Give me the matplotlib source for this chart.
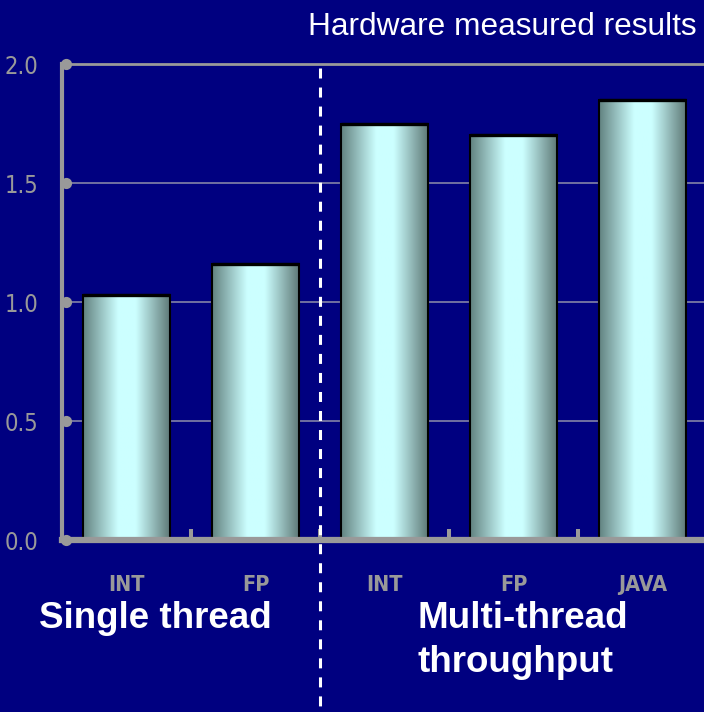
import matplotlib
matplotlib.use('Agg')
import matplotlib.pyplot as plt
import matplotlib.transforms as mtransforms
from matplotlib import font_manager
import numpy as np

categories = ['INT', 'FP', 'INT', 'FP', 'JAVA']
speedup = [1.03, 1.16, 1.75, 1.70, 1.85]
y_ticks = [0.0, 0.5, 1.0, 1.5, 2.0]
y_labels = ['0.0', '0.5', '1.0', '1.5', '2.0']

bg = '#000080'
grey = '#999999'
sans = ['Liberation Sans', 'DejaVu Sans']

plt.rcParams['lines.scale_dashes'] = False

# pick a narrow face for the axis labels if one is around
installed = set(f.name for f in font_manager.fontManager.ttflist)
if 'Liberation Sans Narrow' in installed:
	narrow = ['Liberation Sans Narrow', 'DejaVu Sans']
	narrow_stretch = 'normal'
else:
	narrow = ['DejaVu Sans']
	narrow_stretch = 'condensed'


def bar_gradient():
	# dark teal at the edges, pale cyan in the middle
	stops = np.array([0.0, 0.4, 0.6, 1.0])
	cols = np.array([[0x62, 0x82, 0x80], [0xcc, 0xff, 0xff],
					 [0xcc, 0xff, 0xff], [0x5c, 0x76, 0x74]]) / 255.
	xs = np.linspace(0, 1, 200)
	rgb = np.stack([np.interp(xs, stops, cols[:, k]) for k in range(3)], axis=-1)
	return rgb[np.newaxis, :, :]


def main():
	fig = plt.figure(figsize=(7.04, 7.12), dpi=100, facecolor=bg)
	ax = fig.add_axes([62/704., 172/712., 645/704., 476/712.])
	ax.set_facecolor(bg)

	x = np.arange(len(categories))
	bars = ax.bar(x, speedup, width=0.675, facecolor='none', edgecolor='black',
				  linewidth=1.5, zorder=4)
	grad = bar_gradient()
	for b in bars:
		x0 = b.get_x()
		ax.imshow(grad, extent=(x0, x0 + b.get_width(), 0, b.get_height()),
				  aspect='auto', zorder=3, interpolation='bilinear')
		ax.plot([x0, x0 + b.get_width()], [b.get_height()] * 2, color='black',
				lw=2.4, solid_capstyle='butt', zorder=5)

	ax.set_xlim(-0.5, 4.5)
	ax.set_ylim(0, 2.0)

	# grid and frame
	for y in y_ticks[1:-1]:
		ax.axhline(y, color='#8f8faa', lw=1.1, zorder=1)
	for side in ['left', 'bottom', 'top']:
		ax.spines[side].set_color(grey)
	ax.spines['left'].set_linewidth(3.0)
	ax.spines['bottom'].set_linewidth(4.5)
	ax.spines['top'].set_linewidth(2.0)
	ax.spines['right'].set_visible(False)
	ax.spines['left'].set_zorder(6)
	ax.spines['bottom'].set_zorder(6)

	# round dots on the value axis
	trans = mtransforms.blended_transform_factory(ax.transAxes, ax.transData)
	ax.scatter([0.006] * len(y_ticks), y_ticks, s=65, color=grey, transform=trans,
			   clip_on=False, zorder=7, linewidths=0)

	ax.set_yticks(y_ticks)
	ax.set_yticklabels(y_labels, family=narrow, stretch=narrow_stretch,
					   fontsize=17, color=grey)
	ax.tick_params(axis='y', length=0, pad=17)
	nudge = mtransforms.ScaledTranslation(0, -3/100., fig.dpi_scale_trans)
	for lab in ax.get_yticklabels():
		lab.set_va('center')
		lab.set_transform(lab.get_transform() + nudge)

	ax.set_xticks(x)
	ax.set_xticklabels(categories, family=narrow, stretch=narrow_stretch,
					   fontsize=15.5, fontweight='bold', color=grey)
	ax.tick_params(axis='x', which='major', length=0, pad=25)
	ax.set_xticks(x[:-1] + 0.5, minor=True)
	ax.tick_params(axis='x', which='minor', direction='in', length=8, width=2.9,
				   color=grey)

	# divider between single and multi-thread
	ax.plot([1.5, 1.5], [1.983, -0.75], color='white', lw=2.2,
			linestyle=(0, (7.2, 6.5)), clip_on=False, zorder=8)

	fig.text(697/704., 1 - 35/712., 'Hardware measured results', family=sans,
			 fontsize=22.8, color='white', ha='right', va='baseline')
	fig.text(39/704., 1 - 628/712., 'Single thread', family=sans, fontsize=26.5,
			 fontweight='bold', color='white', ha='left', va='baseline')
	fig.text(417/704., 1 - 628/712., 'Multi-thread', family=sans, fontsize=26.5,
			 fontweight='bold', color='white', ha='left', va='baseline')
	fig.text(417/704., 1 - 672/712., 'throughput', family=sans, fontsize=26.5,
			 fontweight='bold', color='white', ha='left', va='baseline')

	fig.savefig('out.png', dpi=100, facecolor=bg)


if __name__ == '__main__':
	main()
